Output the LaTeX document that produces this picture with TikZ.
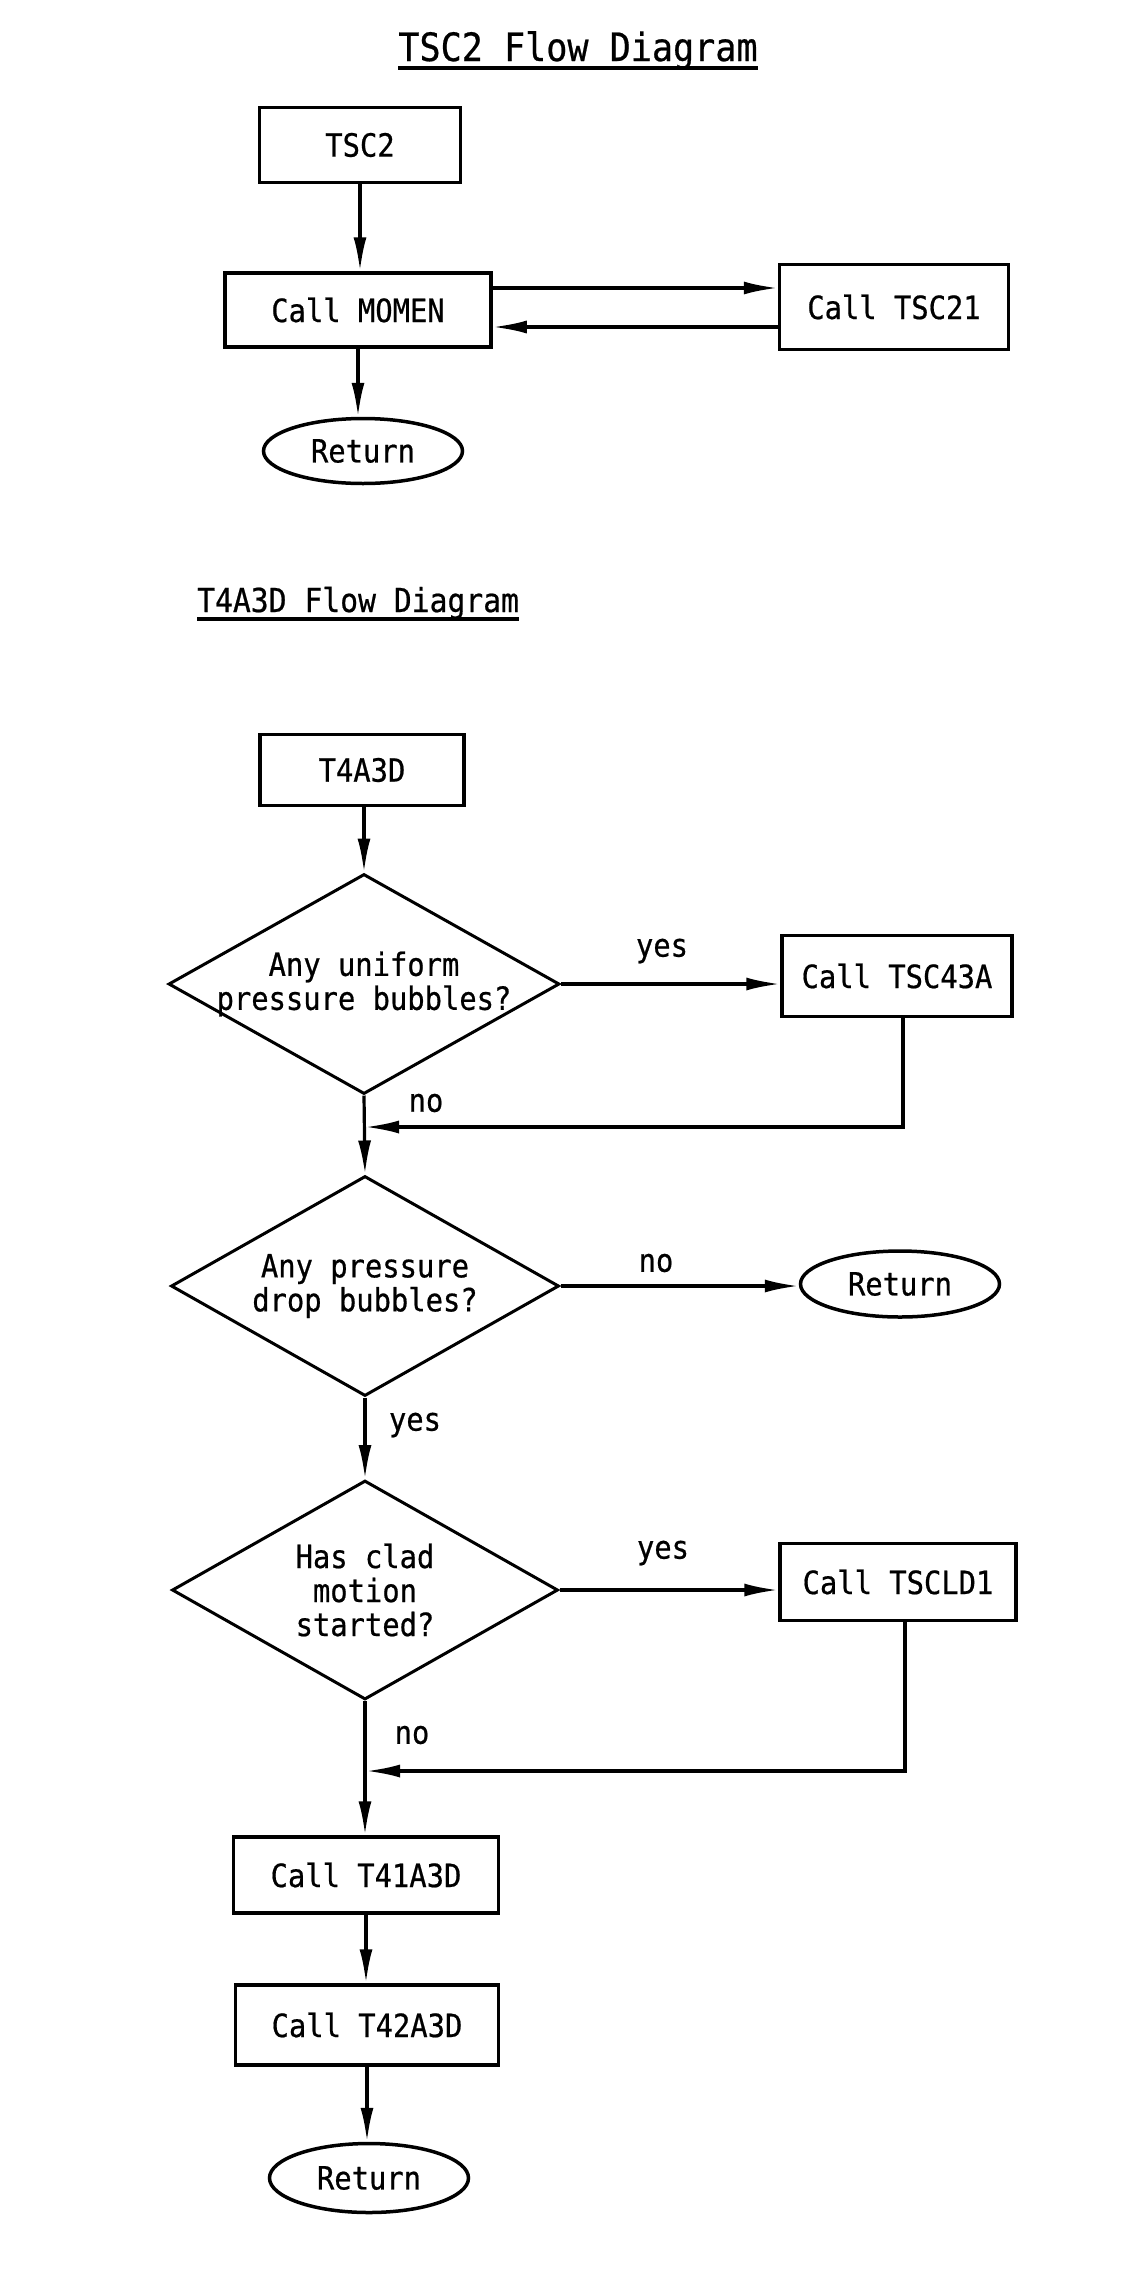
\documentclass[tikz,border=0pt]{standalone}
\usepackage{fontspec}
\setmainfont[FakeStretch=0.9,FakeBold=0.6]{DejaVu Sans Mono}
\usetikzlibrary{shapes.geometric,arrows.meta}
\begin{document}
\begin{tikzpicture}[x=1pt,y=-1pt,
  every node/.style={font=\fontsize{32}{34}\selectfont},
  proc/.style={draw, line width=3.5pt, inner sep=0pt},
  term/.style={ellipse, draw, line width=3.5pt, inner sep=0pt, minimum width=199pt},
  dec/.style={diamond, draw, line width=3pt, inner xsep=-20pt, inner ysep=0pt, aspect=1.78, align=center},
  flow/.style={line width=3.2pt, -{Latex[length=34pt,width=13pt]}},
  lbl/.style={inner sep=0pt},
  ttl/.style={inner sep=0pt}]
\fill[white] (0,0) rectangle (1138,2270);
\useasboundingbox (0,0) rectangle (1138,2270);

% ---------- TSC2 flow diagram ----------
\node[ttl, anchor=base, font=\fontsize{39}{42}\selectfont] (title1) at (578,61) {TSC2 Flow Diagram};
\draw[line width=4pt] ([yshift=-7pt]title1.base west) -- ([yshift=-7pt]title1.base east);

\node[proc, minimum width=201pt, minimum height=75pt] (tsc2) at (360,145) {TSC2};
\node[proc, minimum width=266pt, minimum height=74pt] (momen) at (358,310) {Call MOMEN};
\node[proc, minimum width=229pt, minimum height=85pt] (tsc21) at (894,307) {Call TSC21};
\node[term, minimum height=65pt] (ret1) at (363,451) {Return};

\draw[flow] (tsc2.south) -- (tsc2.south |- momen.north);
\draw[flow] ([yshift=22pt]momen.east) -- ([yshift=22pt]momen.east -| tsc21.west);
\draw[flow] ([yshift=-17pt]momen.east -| tsc21.west) -- ([yshift=-17pt]momen.east);
\draw[flow] (momen.south) -- (momen.south |- ret1.north);

% ---------- T4A3D flow diagram ----------
\node[ttl, anchor=base west, font=\fontsize{33}{36}\selectfont] (title2) at (197,612) {T4A3D Flow Diagram};
\draw[line width=3.5pt] ([yshift=-7pt]title2.base west) -- ([yshift=-7pt]title2.base east);

\node[proc, minimum width=204pt, minimum height=71pt] (t4a3d) at (362,770) {T4A3D};
\node[dec, minimum width=391pt, minimum height=220pt] (d1) at (364,984) {Any uniform\\pressure bubbles?};
\node[proc, minimum width=230pt, minimum height=81pt] (tsc43a) at (897,976) {Call TSC43A};
\node[dec, minimum width=388pt, minimum height=220pt] (d2) at (365,1286) {Any pressure\\drop bubbles?};
\node[term, minimum height=66pt] (ret2) at (900,1284) {Return};
\node[dec, minimum width=386pt, minimum height=219pt] (d3) at (365,1590) {Has clad\\motion\\started?};
\node[proc, minimum width=236pt, minimum height=77pt] (tscld1) at (898,1582) {Call TSCLD1};
\node[proc, minimum width=265pt, minimum height=76pt] (t41) at (366,1875) {Call T41A3D};
\node[proc, minimum width=263pt, minimum height=80pt] (t42) at (367,2025) {Call T42A3D};
\node[term, minimum height=69pt] (ret3) at (369,2178) {Return};

\coordinate (j1) at (365,1127);
\coordinate (j2) at (366,1771);

\draw[flow] (t4a3d.south) -- (t4a3d.south -| d1.north) -- (d1.north);
\draw[flow] (d1.east) -- (d1.east -| tsc43a.west);
\node[lbl] (yes1) at (662,951) {yes};
\draw[flow] (d1.south) -- (d2.north);
\node[lbl] (no1) at (426,1103) {no};
\draw[flow] ([xshift=6pt]tsc43a.south) |- (j1);

\draw[flow] (d2.east) -- (d2.east -| ret2.west);
\node[lbl] (no2) at (656,1263) {no};
\draw[flow] (d2.south) -- (d3.north);
\node[lbl] (yes2) at (415,1425) {yes};

\draw[flow] (d3.east) -- (d3.east -| tscld1.west);
\node[lbl] (yes3) at (663,1553) {yes};
\draw[flow] ([xshift=7pt]tscld1.south) |- (j2);
\node[lbl] (no3) at (412,1735) {no};
\draw[flow] (d3.south) -- (d3.south |- t41.north);

\draw[flow] (t41.south) -- (t41.south |- t42.north);
\draw[flow] (t42.south) -- (t42.south |- ret3.north);
\end{tikzpicture}
\end{document}
